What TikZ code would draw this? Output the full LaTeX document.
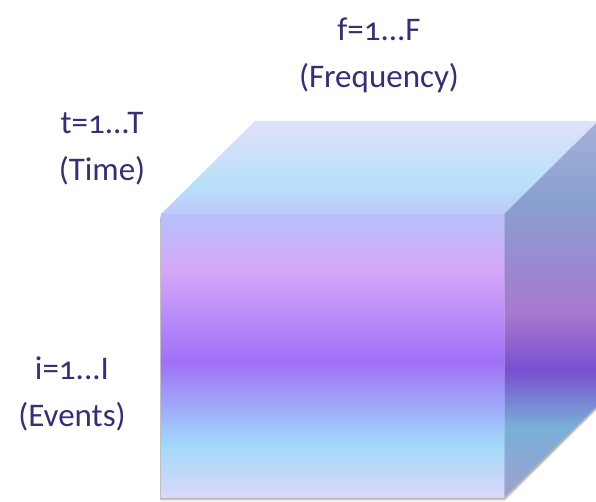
\documentclass[tikz,border=0pt]{standalone}
\usepackage{fontspec}
\setmainfont{Carlito}[Numbers=OldStyle]
\usepackage{tikz}

\definecolor{labeltext}{HTML}{3C2C70}
% front face
\definecolor{frontA}{HTML}{B8C0FA}
\definecolor{frontB}{HTML}{D4A8F8}
\definecolor{frontC}{HTML}{A070F8}
\definecolor{frontD}{HTML}{A0D8FA}
\definecolor{frontE}{HTML}{DAD8FA}
% right face
\definecolor{sideA}{HTML}{A8B0D8}
\definecolor{sideB}{HTML}{88A0D0}
\definecolor{sideC}{HTML}{A878D0}
\definecolor{sideD}{HTML}{7850D0}
\definecolor{sideE}{HTML}{78B0D8}
\definecolor{sideF}{HTML}{A0A0D0}
% top face
\definecolor{topA}{HTML}{E0E0FA}
\definecolor{topB}{HTML}{B8E0FA}
\definecolor{topC}{HTML}{C0C8FA}

\pgfdeclareverticalshading{frontshade}{100bp}{color(0bp)=(frontE); color(25bp)=(frontE);
  color(34.5bp)=(frontD); color(48.9bp)=(frontC); color(65.1bp)=(frontB); color(75bp)=(frontA); color(100bp)=(frontA)}
\pgfdeclareverticalshading{sideshade}{100bp}{color(0bp)=(sideF); color(25bp)=(sideF);
  color(34.3bp)=(sideE); color(41.8bp)=(sideD); color(49.5bp)=(sideC); color(64.5bp)=(sideB); color(75bp)=(sideA); color(100bp)=(sideA)}
\pgfdeclareverticalshading{topshade}{100bp}{color(0bp)=(topC); color(25bp)=(topC);
  color(40.6bp)=(topB); color(75bp)=(topA); color(100bp)=(topA)}

\begin{document}
\begin{tikzpicture}[x=1pt, y=-1pt,
    axislabel/.style={text=labeltext, align=center, font=\fontsize{33}{47}\selectfont}]
  \useasboundingbox (0,0) rectangle (596,502);
  % soft shadow
  \foreach \d/\o in {4/0.08, 3/0.1, 2/0.14}
    \fill[black, opacity=\o] (161-\d*0.3,214+\d) -- (598,121+\d) -- (598,405+\d) -- (504+\d*0.3,497+\d) -- (161-\d*0.3,497+\d) -- cycle;
  \shade[shading=frontshade] (161,214) rectangle (504,497);
  \shade[shading=sideshade] (504,214) -- (598,121) -- (598,405) -- (504,497) -- cycle;
  \shade[shading=topshade] (161,214) -- (255,121) -- (598,121) -- (504,214) -- cycle;
  \draw[white, opacity=0.25, line width=0.8pt] (504,214) -- (504,497);
  \node[axislabel] (freq) at (379,55) {f=1...F\\(Frequency)};
  \node[axislabel] (time) at (102,149) {t=1...T\\(Time)};
  \node[axislabel] (events) at (72,394) {i=1...I\\(Events)};
\end{tikzpicture}
\end{document}
